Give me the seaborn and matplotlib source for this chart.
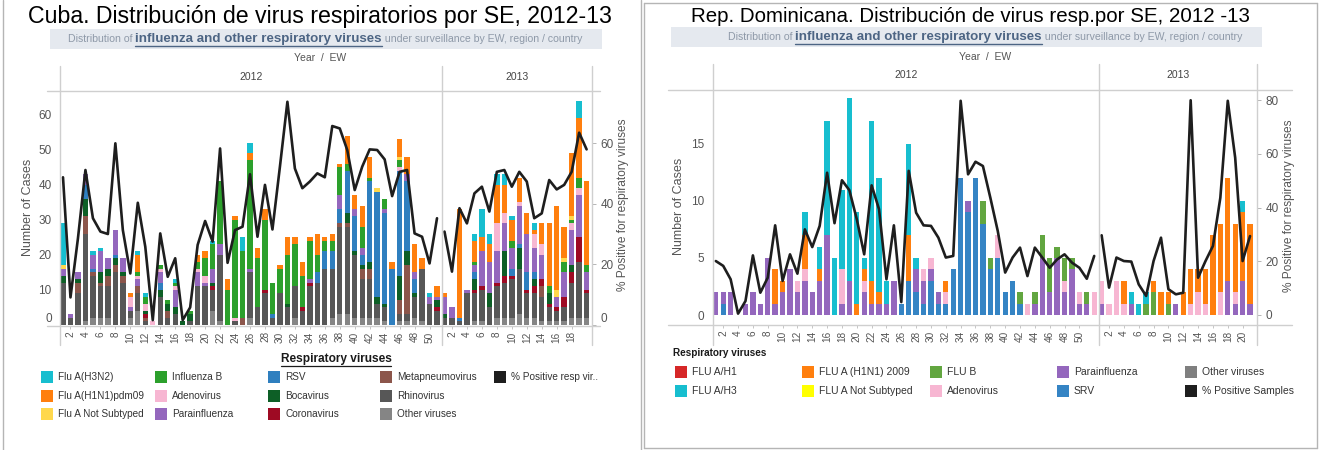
import matplotlib
matplotlib.use("Agg")
import matplotlib.pyplot as plt
from matplotlib import font_manager
from matplotlib.lines import Line2D
from matplotlib.patches import Rectangle
import numpy as np
import pandas as pd
import seaborn as sns

W, H = 1320, 450

# ---------------- Cuba: cases per epidemiological week ----------------
cu_weeks_2012 = list(range(1, 52))
cu_weeks_2013 = list(range(1, 21))

cu_other = [0, 0, 0, 1, 2, 2, 2, 0, 0, 2, 4, 0, 0, 0, 0, 0, 0, 0, 0, 0,
            4, 1, 0, 0, 0, 2, 0, 0, 0, 0, 0, 2, 0, 0, 0, 0, 2, 3, 3, 2,
            2, 2, 2, 1, 0, 1, 1, 2, 1, 0, 0,
            0, 0, 0, 0, 1, 1, 0, 2, 2, 2, 3, 2, 2, 1, 1, 1, 1, 2, 2, 2]
cu_rhino = [12, 2, 9, 25, 12, 9, 9, 15, 12, 2, 5, 1, 0, 8, 2, 3, 0, 1, 11, 11,
            6, 19, 0, 1, 0, 13, 5, 9, 2, 9, 5, 9, 4, 11, 12, 16, 14, 25, 25, 18,
            11, 11, 4, 4, 0, 2, 2, 6, 15, 6, 4,
            2, 2, 1, 9, 8, 9, 5, 9, 10, 11, 13, 7, 7, 7, 4, 3, 4, 10, 16, 7]
cu_metap = [0, 0, 3, 5, 1, 1, 3, 2, 2, 0, 2, 1, 0, 0, 2, 0, 0, 0, 0, 0,
            0, 0, 0, 0, 2, 0, 0, 0, 0, 0, 0, 0, 0, 0, 0, 0, 0, 1, 1, 0,
            3, 3, 0, 0, 0, 4, 14, 0, 0, 0, 0,
            0, 0, 0, 0, 0, 0, 0, 0, 0, 0, 0, 0, 0, 3, 0, 0, 0, 0, 0, 0]
cu_corona = [0, 0, 0, 0, 0, 0, 0, 0, 0, 0, 0, 1, 0, 0, 0, 0, 0, 0, 0, 0,
             1, 0, 0, 0, 0, 0, 0, 1, 0, 0, 0, 0, 1, 1, 0, 0, 0, 0, 0, 0,
             0, 0, 0, 0, 0, 0, 0, 0, 0, 0, 1,
             0, 0, 0, 0, 1, 1, 0, 1, 2, 1, 0, 1, 2, 2, 1, 1, 3, 3, 7, 1]
cu_boca = [2, 0, 1, 5, 0, 3, 2, 2, 1, 0, 0, 1, 0, 2, 2, 2, 1, 2, 0, 0,
           1, 0, 0, 0, 0, 0, 0, 0, 0, 0, 1, 0, 0, 0, 0, 0, 0, 0, 3, 1,
           1, 2, 2, 1, 0, 7, 4, 1, 0, 0, 2,
           1, 0, 0, 0, 3, 0, 4, 0, 7, 0, 6, 0, 2, 0, 3, 0, 0, 2, 0, 0]
cu_rsv = [0, 0, 0, 4, 1, 0, 0, 1, 0, 0, 0, 0, 0, 2, 0, 0, 0, 0, 0, 0,
          0, 0, 0, 0, 0, 0, 0, 0, 1, 0, 0, 0, 0, 0, 3, 5, 5, 4, 12, 10,
          3, 23, 30, 26, 16, 30, 20, 4, 0, 0, 0,
          0, 0, 1, 0, 2, 0, 0, 0, 0, 2, 1, 5, 2, 0, 0, 0, 0, 0, 0, 0]
cu_para = [2, 1, 2, 3, 4, 6, 3, 7, 4, 1, 2, 0, 0, 3, 0, 5, 0, 0, 4, 1,
           4, 3, 0, 0, 0, 1, 0, 0, 0, 0, 0, 0, 0, 1, 0, 0, 0, 4, 0, 2,
           2, 0, 0, 1, 0, 0, 2, 2, 0, 2, 1,
           5, 3, 0, 1, 2, 10, 9, 9, 8, 6, 11, 11, 7, 7, 0, 3, 7, 10, 12, 5]
cu_adeno = [0, 0, 0, 0, 0, 0, 0, 0, 0, 3, 1, 2, 1, 1, 0, 1, 0, 0, 1, 2,
            0, 0, 0, 1, 0, 0, 0, 0, 0, 0, 0, 0, 0, 0, 0, 0, 0, 0, 0, 0,
            0, 0, 0, 0, 0, 1, 0, 0, 0, 0, 0,
            0, 0, 0, 0, 0, 0, 0, 8, 3, 0, 1, 0, 4, 3, 0, 0, 0, 2, 2, 0]
cu_flub = [0, 0, 0, 0, 0, 0, 0, 0, 0, 0, 1, 2, 0, 1, 1, 1, 0, 1, 2, 5,
           7, 18, 10, 28, 19, 31, 14, 20, 9, 7, 14, 12, 9, 11, 5, 3, 3, 8, 2, 0,
           6, 1, 0, 3, 0, 2, 0, 0, 0, 0, 0,
           0, 0, 0, 0, 1, 0, 0, 0, 0, 2, 0, 0, 0, 0, 2, 0, 3, 1, 3, 2]
cu_notsub = [1, 0, 0, 0, 0, 0, 0, 0, 0, 0, 0, 0, 0, 0, 0, 0, 0, 0, 0, 0,
             0, 0, 0, 0, 0, 0, 0, 0, 0, 0, 0, 0, 0, 0, 0, 0, 0, 0, 0, 0,
             0, 0, 1, 0, 0, 1, 0, 0, 0, 0, 0,
             0, 0, 0, 0, 0, 0, 0, 0, 0, 0, 0, 0, 0, 0, 0, 2, 1, 1, 0, 0]
cu_h1n1 = [0, 0, 0, 0, 0, 0, 0, 0, 0, 1, 5, 0, 0, 0, 0, 0, 0, 0, 2, 2,
           0, 0, 3, 1, 0, 2, 3, 3, 0, 1, 5, 2, 4, 1, 6, 1, 2, 1, 8, 4,
           6, 6, 0, 0, 2, 5, 5, 8, 3, 0, 3,
           1, 0, 31, 0, 6, 4, 5, 11, 8, 6, 7, 6, 1, 6, 18, 24, 9, 18, 17, 24]
cu_h3n2 = [12, 0, 0, 0, 1, 1, 0, 0, 0, 0, 1, 1, 0, 0, 0, 1, 0, 0, 0, 0,
           1, 0, 0, 0, 4, 3, 0, 0, 0, 0, 0, 0, 0, 0, 0, 0, 0, 0, 0, 0,
           0, 0, 0, 0, 0, 0, 0, 0, 0, 1, 0,
           0, 0, 0, 0, 2, 8, 3, 3, 3, 1, 0, 0, 2, 0, 0, 0, 0, 0, 5, 0]

cu_pct_2012 = [48.7, 9.1, 28.6, 51.1, 35.2, 30.8, 30.0, 59.9, 31.3, 17.0,
               40.3, 25.8, 1.6, 30.2, 15.9, 22.0, 1.6, 5.8, 26.4, 34.3,
               27.5, 58.2, 20.5, 31.3, 32.4, 49.7, 29.1, 46.2, 31.5, 52.2,
               73.6, 51.6, 45.1, 47.3, 50.0, 48.7, 65.6, 64.8, 57.7, 44.5,
               52.2, 57.9, 57.7, 54.6, 42.5, 50.5, 51.1, 30.2, 29.1, 20.3, 35.2]
cu_pct_2013 = [30.8, 17.6, 38.5, 33.5, 43.4, 45.6, 37.4, 50.5, 51.1, 45.6,
               50.5, 47.3, 35.2, 36.8, 47.8, 44.7, 46.2, 50.5, 63.4, 57.9]

# ---------------- Dominican Republic ----------------
dr_weeks_2012 = list(range(1, 53))
dr_weeks_2013 = list(range(1, 22))

dr_srv = [0, 1, 0, 0, 0, 0, 0, 0, 0, 0, 0, 0, 0, 0, 0, 0, 0, 0, 0, 0,
          0, 0, 0, 0, 0, 1, 3, 2, 1, 3, 1, 1, 4, 12, 9, 12, 8, 4, 5, 2,
          3, 1, 0, 0, 0, 0, 0, 0, 0, 0, 0, 0,
          0, 0, 0, 0, 0, 0, 0, 0, 0, 0, 0, 0, 0, 0, 0, 0, 0, 0, 0, 0, 0]
dr_para = [2, 1, 2, 0, 1, 2, 1, 5, 1, 2, 4, 2, 3, 2, 3, 7, 0, 1, 3, 0,
           2, 1, 1, 1, 3, 0, 0, 2, 2, 1, 1, 0, 0, 0, 1, 0, 0, 0, 0, 0,
           0, 0, 0, 1, 5, 2, 5, 2, 4, 1, 1, 0,
           1, 0, 0, 0, 1, 0, 0, 0, 0, 0, 1, 0, 0, 0, 0, 0, 0, 3, 1, 3, 1]
dr_adeno = [0, 0, 0, 0, 0, 0, 0, 0, 0, 0, 0, 1, 1, 0, 0, 0, 0, 3, 0, 0,
            1, 0, 0, 0, 0, 0, 0, 0, 1, 1, 0, 1, 0, 0, 0, 0, 0, 0, 2, 0,
            0, 0, 1, 0, 0, 0, 0, 1, 0, 1, 0, 2,
            2, 1, 3, 1, 0, 0, 0, 0, 0, 0, 0, 0, 1, 2, 1, 0, 2, 0, 1, 0, 0]
dr_flub = [0, 0, 0, 0, 0, 0, 0, 0, 0, 0, 0, 0, 0, 0, 0, 0, 0, 0, 0, 0,
           0, 0, 0, 0, 0, 0, 0, 0, 0, 0, 0, 0, 0, 0, 0, 0, 2, 1, 0, 0,
           0, 1, 0, 1, 2, 3, 1, 2, 1, 0, 1, 0,
           0, 0, 0, 0, 0, 0, 1, 2, 0, 1, 0, 0, 0, 0, 0, 0, 0, 0, 0, 0, 0]
dr_h1n1 = [0, 0, 0, 0, 0, 0, 0, 0, 3, 1, 0, 0, 3, 0, 1, 0, 0, 0, 0, 1,
           1, 2, 1, 0, 0, 0, 4, 0, 0, 0, 0, 1, 0, 0, 0, 0, 0, 0, 0, 0,
           0, 0, 0, 0, 0, 0, 0, 0, 0, 0, 0, 0,
           0, 0, 0, 2, 0, 0, 0, 1, 2, 1, 0, 2, 3, 2, 3, 7, 6, 9, 6, 6, 7]
dr_h3 = [0, 0, 0, 0, 0, 0, 0, 0, 0, 0, 0, 0, 2, 0, 2, 10, 5, 7, 16, 8,
         1, 14, 10, 2, 0, 0, 8, 1, 0, 0, 0, 0, 0, 0, 0, 0, 0, 0, 0, 0,
         0, 0, 0, 0, 0, 0, 0, 0, 0, 0, 0, 0,
         0, 0, 0, 0, 1, 1, 1, 0, 0, 0, 0, 0, 0, 0, 0, 0, 0, 0, 0, 1, 0]

dr_pct_2012 = [20.1, 18.3, 13.3, 0.5, 5.2, 22.2, 8.3, 13.9, 33.4, 12.7,
               22.6, 15.4, 31.9, 25.3, 33.2, 53.0, 34.2, 50.2, 46.5, 35.7,
               22.6, 48.3, 39.4, 13.3, 33.4, 4.8, 53.7, 38.1, 33.4, 33.2,
               28.8, 21.4, 22.0, 79.8, 52.4, 57.1, 55.5, 43.7, 31.3, 15.8,
               21.4, 25.1, 14.5, 25.1, 21.4, 17.6, 20.7, 22.6, 19.5, 17.6,
               13.5, 22.0]
dr_pct_2013 = [29.7, 10.2, 21.4, 20.1, 19.9, 11.4, 7.1, 20.1, 28.8, 9.6,
               7.7, 8.3, 80.0, 13.9, 20.1, 25.7, 43.7, 79.8, 58.6, 20.1, 29.4]

# ---------------- series names and colours ----------------
cu_legend = [["Flu A(H3N2)", "Flu A(H1N1)pdm09", "Flu A Not Subtyped"],
             ["Influenza B", "Adenovirus", "Parainfluenza"],
             ["RSV", "Bocavirus", "Coronavirus"],
             ["Metapneumovirus", "Rhinovirus", "Other viruses"],
             ["% Positive resp vir.."]]
cu_colors = {"Flu A(H3N2)": "#17becf", "Flu A(H1N1)pdm09": "#ff7f0e",
             "Flu A Not Subtyped": "#ffd84d", "Influenza B": "#2ca02c",
             "Adenovirus": "#f7b6d2", "Parainfluenza": "#9467bd",
             "RSV": "#2f7fbf", "Bocavirus": "#0d5f26", "Coronavirus": "#9e0a23",
             "Metapneumovirus": "#8c564b", "Rhinovirus": "#575757",
             "Other viruses": "#858585", "% Positive resp vir..": "#1e1e1e"}

dr_legend = [["FLU A/H1", "FLU A/H3"],
             ["FLU A (H1N1) 2009", "FLU A Not Subtyped"],
             ["FLU B", "Adenovirus"],
             ["Parainfluenza", "SRV"],
             ["Other viruses", "% Positive Samples"]]
dr_colors = {"FLU A/H1": "#d62728", "FLU A/H3": "#17becf",
             "FLU A (H1N1) 2009": "#ff7f0e", "FLU A Not Subtyped": "#ffff00",
             "FLU B": "#62a640", "Adenovirus": "#f7b6d2",
             "Parainfluenza": "#9467bd", "SRV": "#3584c4",
             "Other viruses": "#7f7f7f", "% Positive Samples": "#1e1e1e"}

# stacking order, bottom to top
cu_stack = {"Other viruses": cu_other, "Rhinovirus": cu_rhino,
            "Metapneumovirus": cu_metap, "Coronavirus": cu_corona,
            "Bocavirus": cu_boca, "RSV": cu_rsv, "Parainfluenza": cu_para,
            "Adenovirus": cu_adeno, "Influenza B": cu_flub,
            "Flu A Not Subtyped": cu_notsub, "Flu A(H1N1)pdm09": cu_h1n1,
            "Flu A(H3N2)": cu_h3n2}
dr_stack = {"SRV": dr_srv, "Parainfluenza": dr_para, "Adenovirus": dr_adeno,
            "FLU B": dr_flub, "FLU A (H1N1) 2009": dr_h1n1, "FLU A/H3": dr_h3}

# ---------------- style ----------------
sns.set_theme(style="white")


def installed(name):
    try:
        font_manager.findfont(font_manager.FontProperties(family=name),
                              fallback_to_default=False)
        return True
    except Exception:
        return False


SANS = "Liberation Sans" if installed("Liberation Sans") else "DejaVu Sans"
NARROW = "Liberation Sans Narrow" if installed("Liberation Sans Narrow") else SANS
plt.rcParams["font.family"] = [SANS, "DejaVu Sans"]

fig = plt.figure(figsize=(W / 100, H / 100), dpi=100)
fig.patch.set_facecolor("white")
renderer = fig.canvas.get_renderer()


def fx(px):
    return px / W


def fy(py):
    return 1 - py / H


def hline(y, x0, x1, color="#cfcfcf", lw=1.0):
    fig.add_artist(Line2D([fx(x0), fx(x1)], [fy(y), fy(y)],
                          transform=fig.transFigure, color=color, lw=lw))


def vline(x, y0, y1, color="#cfcfcf", lw=1.0):
    fig.add_artist(Line2D([fx(x), fx(x)], [fy(y0), fy(y1)],
                          transform=fig.transFigure, color=color, lw=lw))


def put(x, y, s, size, width=None, ha="center", va="center", **kw):
    t = fig.text(fx(x), fy(y), s, fontsize=size, ha=ha, va=va, **kw)
    if width is not None:
        w = t.get_window_extent(renderer).width
        t.set_fontsize(size * width / w)
    return t


def text_width(t):
    return t.get_window_extent(renderer).width


def subtitle(cx, cy, x0, x1, y0, y1):
    fig.add_artist(Rectangle((fx(x0), fy(y1)), fx(x1) - fx(x0), fy(y0) - fy(y1),
                             transform=fig.transFigure, color="#e5e9ef", lw=0))
    parts = [("Distribution of ", dict(fontsize=7.6, color="#8e99a8", family=NARROW)),
             ("influenza and other respiratory viruses",
              dict(fontsize=9.6, color="#4d6584", weight="bold", family=NARROW)),
             (" under surveillance by EW, region / country",
              dict(fontsize=7.6, color="#8e99a8", family=NARROW))]
    items = [fig.text(0, fy(cy), s, ha="left", va="center", **kw) for s, kw in parts]
    widths = [text_width(t) for t in items]
    x = cx - sum(widths) / 2
    for t, w in zip(items, widths):
        t.set_x(fx(x))
        x += w
    bx0 = cx - sum(widths) / 2 + widths[0]
    hline(cy + 6.5, bx0, bx0 + widths[1], color="#4d6584", lw=1.0)


def panel(rect_px, stack, colors, weeks12, weeks13, pct12, pct13, xlim, ylim,
          ylim2, yticks, y2ticks, tick12, tick13, lift_zero):
    left, right, top, bottom = rect_px
    ax = fig.add_axes([fx(left), fy(bottom), fx(right) - fx(left), fy(top) - fy(bottom)])
    slots = [f"2012-{w:02d}" for w in weeks12] + [f"2013-{w:02d}" for w in weeks13]
    frame = pd.DataFrame(stack)
    cum = frame.cumsum(axis=1)
    for name in reversed(list(stack)):
        sns.barplot(x=slots, y=cum[name].values, order=slots, color=colors[name],
                    width=0.72, saturation=1, errorbar=None, linewidth=0, ax=ax)
    ax.set_xlim(*xlim)
    ax.set_ylim(*ylim)
    ax2 = ax.twinx()
    n12 = len(weeks12)
    line_color = "#1e1e1e"
    sns.lineplot(x=np.arange(n12), y=pct12, ax=ax2, color=line_color,
                 linewidth=1.9, legend=False)
    sns.lineplot(x=np.arange(n12, n12 + len(weeks13)), y=pct13, ax=ax2,
                 color=line_color, linewidth=1.9, legend=False)
    ax2.set_ylim(*ylim2)
    ax.set_xlim(*xlim)
    pos = [w - 1 for w in tick12] + [n12 + w - 1 for w in tick13]
    ax.set_xticks(pos)
    ax.set_xticklabels([str(w) for w in tick12 + tick13], rotation=90,
                       fontsize=7.2, color="#555555", family=NARROW)
    ax.tick_params(axis="x", length=2, width=0.6, pad=2, color="#bbbbbb",
                   bottom=True)
    ax.set_yticks(yticks)
    ax.set_yticklabels([str(v) for v in yticks], fontsize=8.5, color="#555555")
    ax.tick_params(axis="y", length=0, pad=6)
    ax2.set_yticks(y2ticks)
    ax2.set_yticklabels([str(v) for v in y2ticks], fontsize=8.5, color="#555555")
    ax2.tick_params(axis="y", length=3, width=0.6, pad=3, color="#aaaaaa")
    if lift_zero:
        # keep the zero labels clear of the baseline
        ax.yaxis.get_major_ticks()[0].label1.set_va("bottom")
        ax2.yaxis.get_major_ticks()[0].label2.set_va("bottom")
    for a in (ax, ax2):
        a.set_xlabel("")
        a.set_ylabel("")
        for s in a.spines.values():
            s.set_visible(False)
        a.grid(False)
    ax.set_facecolor("none")
    return ax, ax2


def legend(title, title_xy, title_ha, title_width, underline, columns, colors,
           col_x, row_y, ref_label, ref_width):
    t = put(title_xy[0], title_xy[1], title, 9, width=title_width, ha=title_ha,
            weight="bold", color="#1a1a1a")
    if underline:
        w = text_width(t)
        x0 = title_xy[0] - w / 2 if title_ha == "center" else title_xy[0]
        hline(title_xy[1] + 7, x0, x0 + w, color="#1a1a1a", lw=0.9)
    probe = fig.text(0, 0, ref_label, fontsize=8, family=NARROW)
    size = 8 * ref_width / text_width(probe)
    probe.remove()
    for cx, col in zip(col_x, columns):
        for ry, name in zip(row_y, col):
            fig.add_artist(Rectangle((fx(cx), fy(ry + 6)), 12 / W, 12 / H,
                                     transform=fig.transFigure, color=colors[name], lw=0))
            fig.text(fx(cx + 17), fy(ry), name, fontsize=size, family=NARROW,
                     color="#333333", ha="left", va="center")


# ---------------- frames ----------------
vline(3, 0, 450, color="#b5b5b5")
vline(641, 0, 450, color="#b5b5b5")
vline(644, 3, 448, color="#b5b5b5")
vline(1317, 3, 448, color="#b5b5b5")
hline(3, 644, 1317, color="#b5b5b5")
hline(448, 644, 1317, color="#b5b5b5")

# ---------------- Cuba ----------------
put(320, 17, "Cuba. Distribución de virus respiratorios por SE, 2012-13", 14,
    width=589, color="#000000")
subtitle(325, 39, 50, 602, 29, 49)
put(320, 58, "Year  /  EW", 7.5, color="#555555", family=NARROW)
put(251, 77, "2012", 7.5, color="#444444", family=NARROW)
put(517, 77, "2013", 7.5, color="#444444", family=NARROW)
for xv in (60, 441.5, 592):
    vline(xv, 66, 345)
hline(91, 47, 600)
hline(325.7, 47, 600)

panel((60, 592, 92, 325.7), cu_stack, cu_colors, cu_weeks_2012, cu_weeks_2013,
      cu_pct_2012, cu_pct_2013, (-0.401, 70.72), (-0.2, 66.57), (-0.23, 76.82),
      [0, 10, 20, 30, 40, 50, 60], [0, 20, 40, 60],
      list(range(2, 51, 2)), list(range(2, 19, 2)), True)
put(28, 207, "Number of Cases", 9, rotation=90, color="#555555")
put(623, 205, "% Positive for respiratory viruses", 8.6, rotation=90, color="#555555")

legend("Respiratory viruses", (336, 359), "center", 111, True, cu_legend, cu_colors,
       [41, 155, 268, 380, 494], [377, 396, 414], "Metapneumovirus", 80)

# ---------------- Dominican Republic ----------------
put(970, 17, "Rep. Dominicana. Distribución de virus resp.por SE, 2012 -13", 14,
    width=562, color="#000000")
subtitle(985, 37, 671, 1262, 27, 47)
put(985, 57, "Year  /  EW", 7.5, color="#555555", family=NARROW)
put(906, 75, "2012", 7.5, color="#444444", family=NARROW)
put(1178, 75, "2013", 7.5, color="#444444", family=NARROW)
for xv in (712.7, 1099, 1257):
    vline(xv, 64, 345)
hline(90, 668, 1292)
hline(325, 668, 1292)

panel((712.7, 1257, 92, 325), dr_stack, dr_colors, dr_weeks_2012, dr_weeks_2013,
      dr_pct_2012, dr_pct_2013, (-0.418, 72.94), (-0.877, 19.56), (-3.73, 83.08),
      [0, 5, 10, 15], [0, 20, 40, 60, 80],
      list(range(2, 51, 2)), list(range(2, 21, 2)), False)
put(679, 206, "Number of Cases", 9, rotation=90, color="#555555")
put(1289, 206, "% Positive for respiratory viruses", 8.6, rotation=90, color="#555555")

legend("Respiratory viruses", (673, 353), "left", 94, False, dr_legend, dr_colors,
       [675, 802, 930, 1057, 1185], [372, 391], "% Positive Samples", 92)

fig.savefig("out.png", dpi=100, facecolor="white")
